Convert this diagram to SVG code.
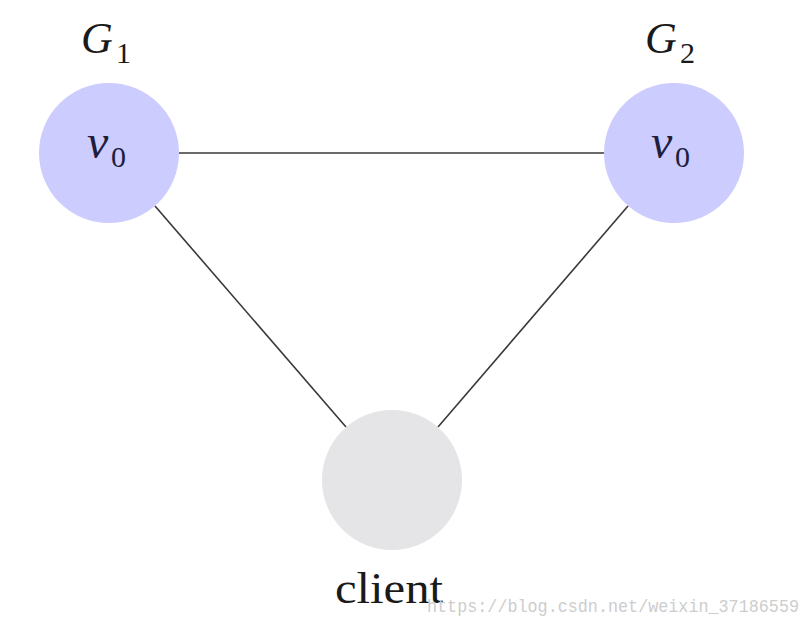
<svg xmlns="http://www.w3.org/2000/svg" width="808" height="626" viewBox="0 0 808 626">
<style>
.edge{stroke:#383838;stroke-width:1.6;fill:none}
.g{fill:#ccccff}
.c{fill:#e5e5e7}
.m{font-family:"Liberation Serif",serif;font-style:italic;fill:#1a1a1a}
.s{font-family:"Liberation Serif",serif;font-style:normal;fill:#1a1a1a}
.v{fill:#1e1e3c}
.wm{font-family:"Liberation Mono",monospace;fill:#cdcdcd;font-size:18px}
</style>
<rect width="808" height="626" fill="#ffffff"/>
<g id="connectors">
<line class="edge" x1="179" y1="153" x2="604" y2="153"/>
<line class="edge" x1="155" y1="206" x2="346" y2="427"/>
<line class="edge" x1="628" y1="206" x2="438" y2="427"/>
</g>
<g id="G1">
<circle class="g" cx="109" cy="153" r="70"/>
<text class="m" x="81" y="53" font-size="44">G</text>
<text class="s" x="116" y="63" font-size="30">1</text>
<text class="m v" x="87" y="158" font-size="48">v</text>
<text class="s v" x="111" y="167" font-size="30">0</text>
</g>
<g id="G2">
<circle class="g" cx="674" cy="153" r="70"/>
<text class="m" x="645" y="53" font-size="44">G</text>
<text class="s" x="680" y="63" font-size="30">2</text>
<text class="m v" x="651" y="158" font-size="48">v</text>
<text class="s v" x="675" y="167" font-size="30">0</text>
</g>
<g id="client">
<circle class="c" cx="392" cy="480" r="70"/>
<text class="s" x="335" y="603" font-size="44" textLength="108" lengthAdjust="spacingAndGlyphs">client</text>
</g>
<text class="wm" x="427" y="612" textLength="372" lengthAdjust="spacingAndGlyphs">https://blog.csdn.net/weixin_37186559</text>
</svg>
